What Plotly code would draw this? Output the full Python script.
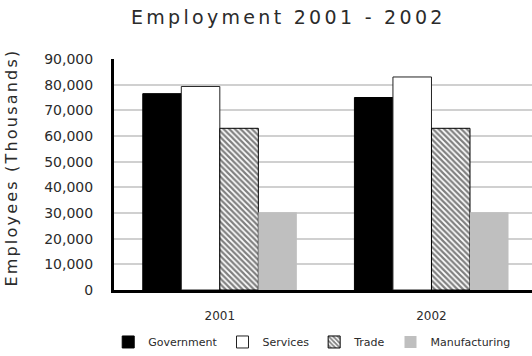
import plotly.graph_objects as go

years = ["2001", "2002"]
government = [76500, 75000]
services = [79300, 83000]
trade = [63000, 63000]
manufacturing = [30300, 30300]

FONT = "DejaVu Sans"
TXT = "#2b2b2b"
fig = go.Figure()
fig.add_bar(name="Government", x=years, y=government,
            marker=dict(color="#000000", line=dict(color="#000000", width=1)))
fig.add_bar(name="Services", x=years, y=services,
            marker=dict(color="#ffffff", line=dict(color="#222222", width=1)))
fig.add_bar(name="Trade", x=years, y=trade,
            marker=dict(color="#ffffff", line=dict(color="#000000", width=1),
                        pattern=dict(shape="\\", fgcolor="#000000", bgcolor="#ffffff",
                                     size=4, solidity=0.55)))
fig.add_bar(name="Manufacturing", x=years, y=manufacturing,
            marker=dict(color="#bfbfbf", line=dict(width=0)))

fig.update_layout(
    width=532, height=356,
    margin=dict(l=114, r=0, t=59, b=66, autoexpand=False),
    paper_bgcolor="white", plot_bgcolor="white",
    barmode="group", bargap=0.272, bargroupgap=0,
    font=dict(family=FONT, color=TXT, size=12),
    title=dict(text='<span style="letter-spacing:3.3px">Employment 2001 - 2002</span>',
               x=0.542, xanchor="center", y=0.952, yanchor="middle",
               font=dict(size=19, family=FONT, color=TXT)),
    showlegend=True,
    legend=dict(orientation="h", x=0.473, xanchor="center", y=-0.225, yanchor="middle",
                font=dict(size=11, family=FONT, color=TXT), itemwidth=30,
                tracegroupgap=0),
    xaxis=dict(range=[-0.5, 1.475], showline=True, linecolor="black", linewidth=3,
               ticks="", tickfont=dict(size=12), ticklabelstandoff=13,
               automargin=False),
    yaxis=dict(range=[0, 90000], dtick=10000, tickformat=",d",
               showline=True, linecolor="black", linewidth=3,
               showgrid=True, gridcolor="#d0d0d0", gridwidth=2,
               zeroline=False, ticks="", tickfont=dict(size=14), ticklabelstandoff=15,
               automargin=False),
    annotations=[dict(text='<span style="letter-spacing:2.2px">Employees (Thousands)</span>',
                      textangle=-90, xref="paper", yref="paper", x=-0.244, y=0.53,
                      xanchor="center", yanchor="middle", showarrow=False,
                      font=dict(size=16, family=FONT, color=TXT))],
)

fig.write_html("out.html",
               config={"displayModeBar": False},
               post_script="document.body.style.margin='0';document.body.style.overflow='hidden';")
